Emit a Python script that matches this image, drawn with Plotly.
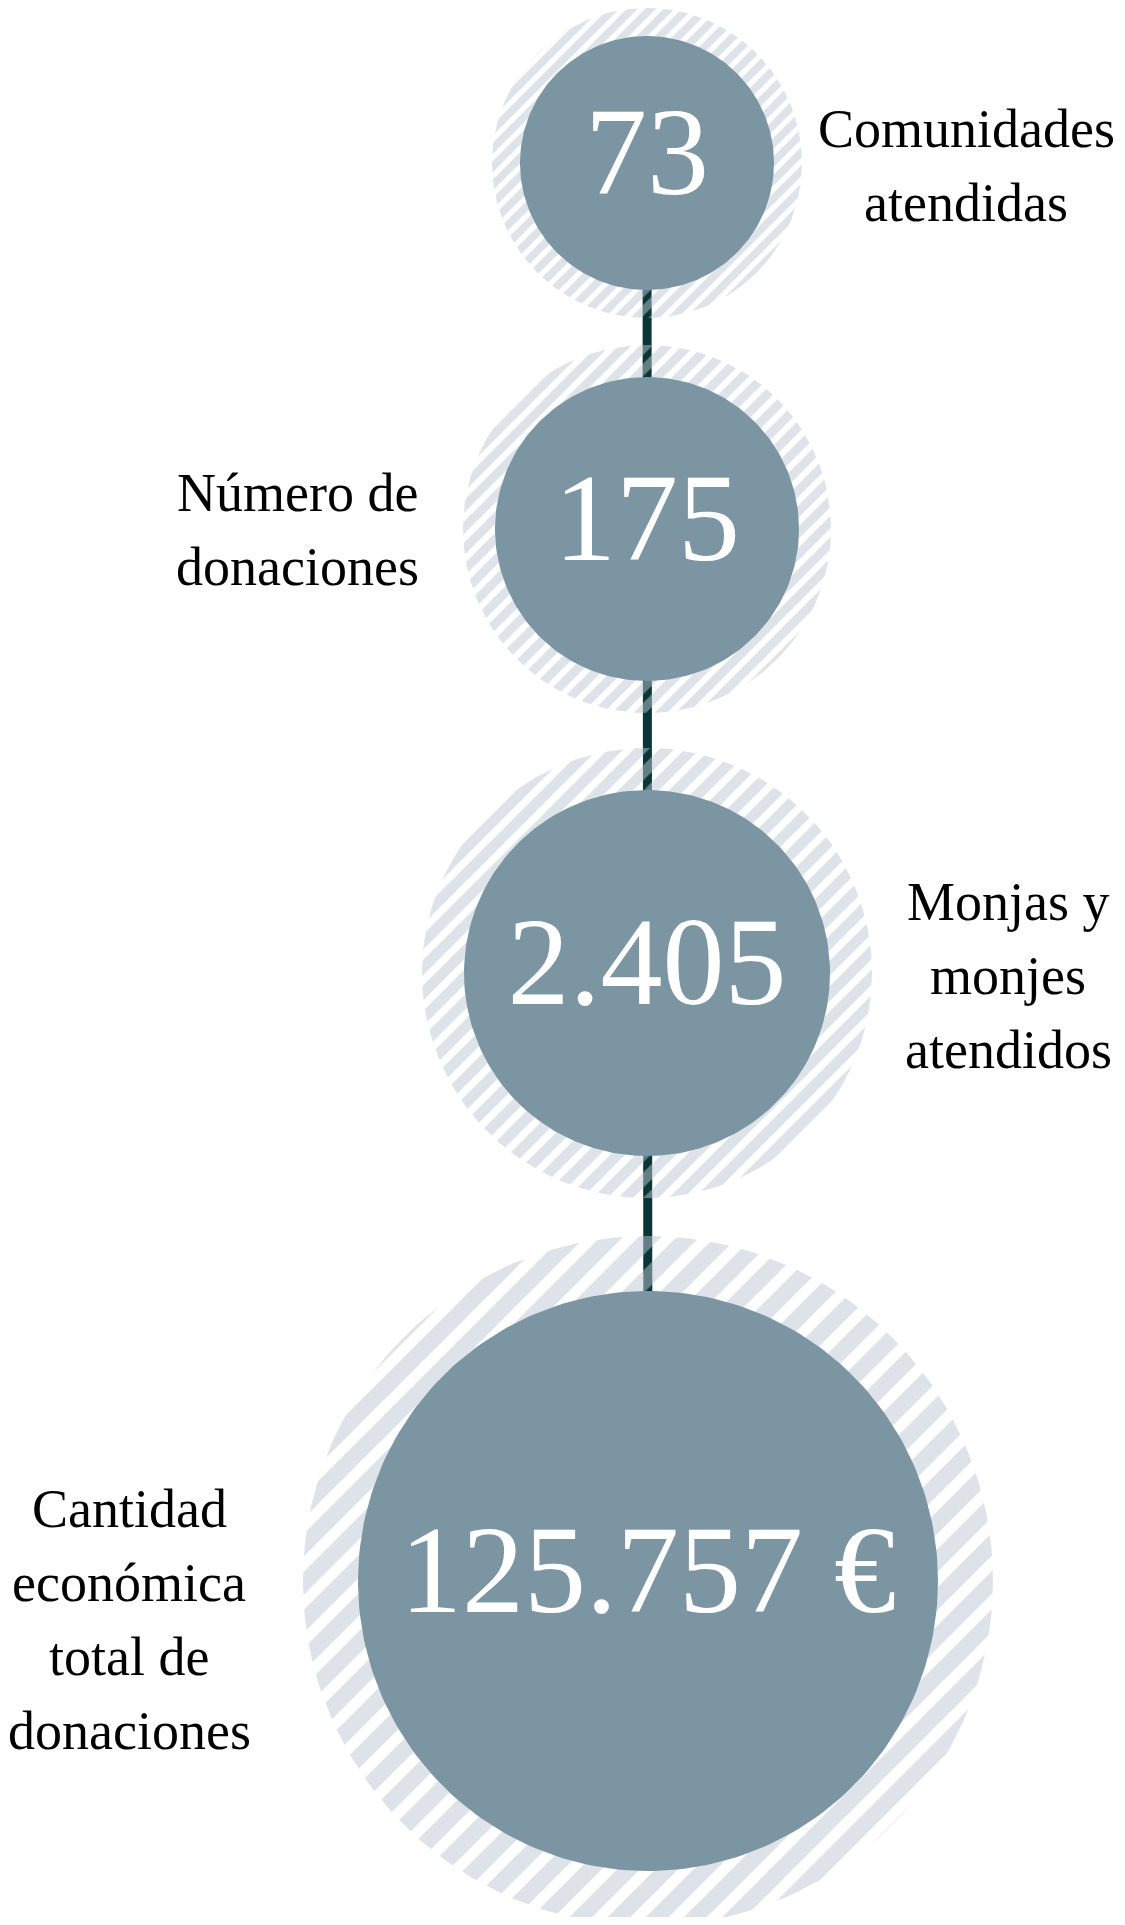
import numpy as np
import plotly.graph_objects as go

# figures shown in the circles, top to bottom
values = ["73", "175", "2.405", "125.757 €"]
labels = [
    "Comunidades<br>atendidas",
    "Número de<br>donaciones",
    "Monjas y<br>monjes<br>atendidos",
    "Cantidad<br>económica<br>total de<br>donaciones",
]

# layout (pixels, page coordinates; the page body has an 8px margin)
W, H = 1125, 1925
PAD = 8
CX = [647, 647, 647, 648]
CY = [163, 529, 973, 1581]
R_IN = [127, 152, 183, 290]
R_OUT = [155, 184, 225, 345]
HATCH = [13, 15, 18, 27]
LABEL_X = [966, 297, 1008, 129]
LABEL_Y = [166, 530, 976, 1620]
LINE_GAP = 74

SOLID = "#7b95a2"
STRIPE = "#bcc8d2"
STEM = "#0b3636"
FONT = "Liberation Serif"

t = np.linspace(0, 2 * np.pi, 240)


def ring(cx, cy, r):
    return cx + r * np.cos(t), cy + r * np.sin(t)


fig = go.Figure()

# vertical connector behind everything
fig.add_trace(go.Scatter(
    x=[CX[0], CX[-1]], y=[CY[0], CY[-1]],
    mode="lines", line=dict(color=STEM, width=9),
    hoverinfo="skip",
))

# hatched halos
for cx, cy, r, s in zip(CX, CY, R_OUT, HATCH):
    x, y = ring(cx, cy, r)
    fig.add_trace(go.Scatter(
        x=x, y=y, mode="lines", fill="toself",
        line=dict(width=0, color="rgba(0,0,0,0)"),
        fillcolor="rgba(0,0,0,0)",
        fillpattern=dict(shape="/", fgcolor=STRIPE, bgcolor="rgba(0,0,0,0)",
                         size=s, solidity=0.6),
        hoverinfo="skip",
    ))

# solid discs
for cx, cy, r in zip(CX, CY, R_IN):
    x, y = ring(cx, cy, r)
    fig.add_trace(go.Scatter(
        x=x, y=y, mode="lines", fill="toself",
        line=dict(width=0, color=SOLID), fillcolor=SOLID,
        hoverinfo="skip",
    ))

# numbers
fig.add_trace(go.Scatter(
    x=CX, y=CY, mode="text", text=values,
    textposition="middle center",
    textfont=dict(family=FONT, size=124, color="white"),
    hoverinfo="skip",
))

# side labels, one annotation per line for the wider leading
for lx, ly, lab in zip(LABEL_X, LABEL_Y, labels):
    lines = lab.split("<br>")
    top = ly - LINE_GAP * (len(lines) - 1) / 2
    for i, txt in enumerate(lines):
        fig.add_annotation(
            x=lx, y=top + i * LINE_GAP, text=txt, showarrow=False,
            xanchor="center", yanchor="middle",
            font=dict(family=FONT, size=54, color="black"),
        )

fig.update_layout(
    width=W - 2 * PAD, height=H - 2 * PAD,
    margin=dict(l=0, r=0, t=0, b=0),
    paper_bgcolor="white", plot_bgcolor="white",
    showlegend=False, hovermode=False,
    xaxis=dict(range=[PAD, W - PAD], visible=False, fixedrange=True),
    yaxis=dict(range=[H - PAD, PAD], visible=False, fixedrange=True),
)

fig.write_html("out.html")
